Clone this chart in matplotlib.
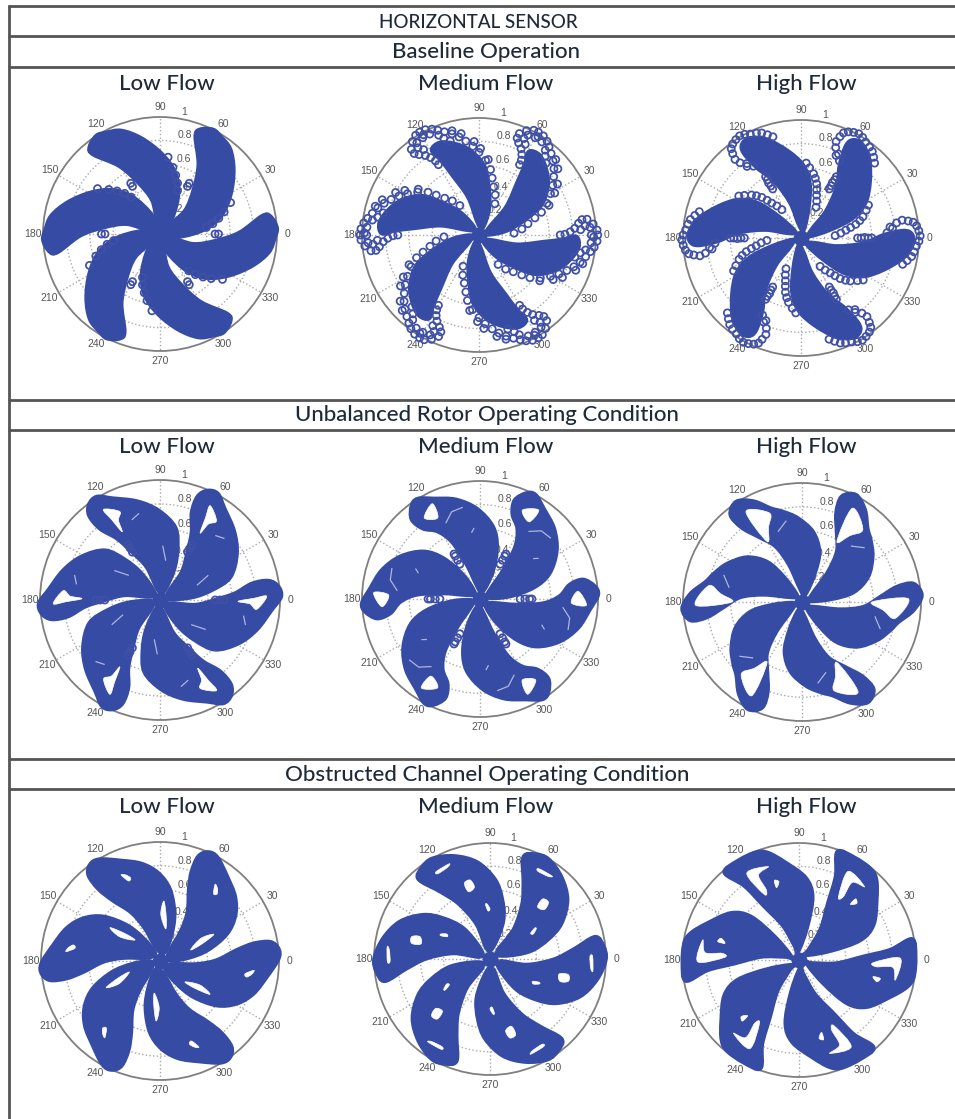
import numpy as np
import matplotlib
matplotlib.use('Agg')
import matplotlib.pyplot as plt
from matplotlib.path import Path
from matplotlib.patches import PathPatch

plt.rcParams['font.family'] = ['Liberation Sans', 'DejaVu Sans']

W, H = 955, 1119
BLUE = '#364BA3'
LOBE_OFFSETS = [0, 60, 120, 180, 240, 300]

THETA_TICKS = [0, 30, 60, 90, 120, 150, 180, 210, 240, 270, 300, 330]
R_TICKS = [0.2, 0.4, 0.6, 0.8]
R_LABELS = ['0.2', '0.4', '0.6', '0.8', '1']
R_LABEL_POS = [0.25, 0.45, 0.67, 0.87, 1.06]
R_LABEL_THETA = [58, 66, 72, 76, 79]

HEADINGS = ['HORIZONTAL SENSOR', 'Baseline Operation',
            'Unbalanced Rotor Operating Condition', 'Obstructed Channel Operating Condition']
HEADING_SIZE = [13.6, 16, 16, 16]
FLOW_NAMES = ['Low Flow', 'Medium Flow', 'High Flow']

## one lobe of each panel, the other five are the same lobe turned
## angle in degrees, r from 0 to 1.
base_low_th = [-18, -17, -7, 1, 10, 9, 3, -2, -9.5, -19, -31, -43.5, -54, -65, -76]
base_low_r = [0.09, 0.294, 0.48, 0.68, 0.888, 0.956, 1.0, 0.98, 0.942, 0.833, 0.688, 0.544, 0.383, 0.2, 0.06]
base_low_ring_th = [0, 0, -52, -49, -45, -41, -36]
base_low_ring_r = [0.47, 0.5, 0.40, 0.46, 0.52, 0.58, 0.66]

base_med_th = [-24, -14, -6, -3, -1, -7, -15, -24, -34, -41, -51, -57]
base_med_r = [0.104, 0.336, 0.56, 0.726, 0.832, 0.857, 0.807, 0.727, 0.597, 0.425, 0.24, 0.068]
base_med_ring_th = [-57, -52, -47, -43, -40, -35, -30, -26, -22, -18.5, -15, -11.5, -8.5, -6, -3, 0, 2.4,
                    5.5, 8.3, 8.5, 6.7, 4, 2, 0.5, 0,
                    4, 0, -4, -8, -10, -13, 5, 3, -1, -27, -20, -15.5, -31, -37]
base_med_ring_r = [0.30, 0.37, 0.43, 0.50, 0.568, 0.64, 0.706, 0.76, 0.81, 0.855, 0.895, 0.93, 0.962, 0.99, 1.01, 1.015, 1.01,
                   0.98, 0.933, 0.89, 0.857, 0.82, 0.78, 0.735, 0.694,
                   0.95, 0.96, 0.96, 0.92, 0.88, 0.84, 0.91, 0.87, 0.98, 0.80, 0.88, 0.92, 0.74, 0.65]

base_high_th = [-21, -13, -5, 2, 4, 2, -3, -11, -21, -31.5, -39, -44, -48]
base_high_r = [0.115, 0.31, 0.53, 0.70, 0.87, 0.94, 0.95, 0.88, 0.75, 0.62, 0.47, 0.265, 0.076]
base_high_ring_th = [-56, -53, -50, -48, -46, -43.5, -41, -37, -34,
                     9, 10, 9, 8, 6, 3.5, 1, -1.5, -4, -7, -9.5, -12, -14.5, 6, 3.5, 7,
                     0, 0, 0.5, 0, 0]
base_high_ring_r = [0.29, 0.34, 0.386, 0.43, 0.478, 0.52, 0.555, 0.60, 0.636,
                    0.82, 0.87, 0.92, 0.96, 0.985, 1.0, 1.01, 1.0, 0.98, 0.965, 0.95, 0.92, 0.89, 0.78, 0.73, 0.76,
                    0.48, 0.51, 0.54, 0.57, 0.60]

unb_low_th = [-16, -8, 0, 5, 10, 10, 6.5, 1.5, -5, -17, -29, -42, -49, -55, -53]
unb_low_r = [0.10, 0.295, 0.46, 0.627, 0.776, 0.917, 0.992, 1.008, 0.934, 0.843, 0.746, 0.616, 0.443, 0.27, 0.07]
unb_low_hole_th = [-1, 1, 2, -5.5, -2.5]
unb_low_hole_r = [0.65, 0.78, 0.89, 0.81, 0.75]
unb_low_slit_th = [[-11, -16], [-38, -33]]
unb_low_slit_r = [[0.71, 0.74], [0.336, 0.448]]
unb_low_ring_th = [0, 0, 0]
unb_low_ring_r = [0.46, 0.5, 0.53]

unb_med_th = [-17, -9, -4, 2, 9, 10.6, 6.3, 2, -5.5, -16.4, -28, -40, -48, -55, -48]
unb_med_r = [0.118, 0.313, 0.536, 0.676, 0.77, 0.888, 0.978, 1.0, 0.934, 0.866, 0.765, 0.624, 0.463, 0.247, 0.064]
unb_med_hole_th = [4.5, -2.5, -3.4]
unb_med_hole_r = [0.834, 0.775, 0.903]
unb_med_slit_th = [[-6, -12, -19], [-23, -25]]
unb_med_slit_r = [[0.708, 0.777, 0.79], [0.57, 0.60]]
unb_med_ring_th = [0, 0, 0, 0]
unb_med_ring_r = [0.34, 0.38, 0.42, 0.44]

unb_high_th = [-23, -11, -4.6, 3.6, 9, 9.3, 3.2, -4.3, -11.7, -17.8, -27, -39, -49, -54, -53]
unb_high_r = [0.106, 0.328, 0.518, 0.658, 0.806, 0.948, 1.007, 0.938, 0.827, 0.777, 0.706, 0.595, 0.445, 0.26, 0.07]
unb_high_hole_th = [0, 1.8, -10, -5.8]
unb_high_hole_r = [0.587, 0.894, 0.795, 0.688]
unb_high_slit_th = [[-11.5, -18.8]]
unb_high_slit_r = [[0.627, 0.693]]

obs_low_th = [-14, -5, 0.7, 8, 10.5, 9.8, 6, 1, -8.5, -19.3, -29, -38, -47, -53.7, -57]
obs_low_r = [0.115, 0.31, 0.476, 0.65, 0.798, 0.938, 1.0, 0.995, 0.906, 0.831, 0.737, 0.605, 0.412, 0.236, 0.077]
obs_low_hole1_th = [-8.5, -5.7, -8.3, -10.5]
obs_low_hole1_r = [0.723, 0.794, 0.778, 0.74]
obs_low_hole2_th = [-40, -31, -33.7, -38]
obs_low_hole2_r = [0.274, 0.393, 0.505, 0.375]

obs_med_th = [-13, -9, -0.6, 6.4, 11.8, 6.4, -0.3, -11, -22.5, -33.4, -41, -49, -47]
obs_med_r = [0.088, 0.32, 0.546, 0.723, 0.925, 0.983, 0.997, 0.937, 0.84, 0.689, 0.534, 0.35, 0.126]
obs_med_hole1_th = [1.5, 1.5, -6.8, -5.1]
obs_med_hole1_r = [0.862, 0.885, 0.893, 0.871]
obs_med_hole2_th = [-12.3, -11.3, -15.9, -17.7]
obs_med_hole2_r = [0.609, 0.689, 0.702, 0.633]
obs_med_hole3_th = [-27.6, -25.3, -26.9, -30]
obs_med_hole3_r = [0.415, 0.47, 0.476, 0.431]

obs_high_th = [-13, -5, 3, 6.3, 10.4, 1.6, -8.3, -14, -22, -34.6, -42, -43.8, -23.5]
obs_high_r = [0.126, 0.324, 0.552, 0.785, 0.982, 0.995, 0.99, 0.951, 0.841, 0.705, 0.552, 0.289, 0.072]
obs_high_hole1_th = [-2, 1, -11.8, -4.5, -5]
obs_high_hole1_r = [0.637, 0.866, 0.84, 0.805, 0.66]
obs_high_hole2_th = [-12.7, -12.8, -15.6]
obs_high_hole2_r = [0.648, 0.712, 0.691]

## layout in pixels of the picture
H_LINE_Y = [6, 36, 67, 400, 430, 759, 789]
HEADING_XY = [(478, 22), (486, 52), (487, 415), (487, 775)]
TITLE_X = [167, 486, 806]
TITLE_Y = [84, 447, 807]

panels = [
    dict(c=(160, 234), R=117, th=base_low_th, r=base_low_r, ring=(base_low_ring_th, base_low_ring_r)),
    dict(c=(479, 235), R=117, th=base_med_th, r=base_med_r, ring=(base_med_ring_th, base_med_ring_r)),
    dict(c=(801, 238), R=118, th=base_high_th, r=base_high_r, ring=(base_high_ring_th, base_high_ring_r)),
    dict(c=(160, 600), R=120, th=unb_low_th, r=unb_low_r, ring=(unb_low_ring_th, unb_low_ring_r),
         holes=[(unb_low_hole_th, unb_low_hole_r)], slits=(unb_low_slit_th, unb_low_slit_r)),
    dict(c=(480, 599), R=118, th=unb_med_th, r=unb_med_r, ring=(unb_med_ring_th, unb_med_ring_r),
         holes=[(unb_med_hole_th, unb_med_hole_r)], slits=(unb_med_slit_th, unb_med_slit_r)),
    dict(c=(802, 602), R=119, th=unb_high_th, r=unb_high_r,
         holes=[(unb_high_hole_th, unb_high_hole_r)], slits=(unb_high_slit_th, unb_high_slit_r)),
    dict(c=(160, 961), R=119, th=obs_low_th, r=obs_low_r,
         holes=[(obs_low_hole1_th, obs_low_hole1_r), (obs_low_hole2_th, obs_low_hole2_r)]),
    dict(c=(490, 959), R=116, th=obs_med_th, r=obs_med_r,
         holes=[(obs_med_hole1_th, obs_med_hole1_r), (obs_med_hole2_th, obs_med_hole2_r),
                (obs_med_hole3_th, obs_med_hole3_r)]),
    dict(c=(799, 960), R=117, th=obs_high_th, r=obs_high_r,
         holes=[(obs_high_hole1_th, obs_high_hole1_r), (obs_high_hole2_th, obs_high_hole2_r)]),
]


def round_path(th_deg, r, offset):
    # closed bezier path through the points, handles worked out in x,y and turned back to polar
    a = np.radians(np.array(th_deg, dtype=float) + offset)
    r = np.array(r, dtype=float)
    pts = np.column_stack([r * np.cos(a), r * np.sin(a)])
    verts = [pts[0]]
    codes = [Path.MOVETO]
    for i in range(len(pts)):
        p0, p1, p2, p3 = pts[i - 1], pts[i], pts[(i + 1) % len(pts)], pts[(i + 2) % len(pts)]
        verts += [p1 + (p2 - p0) / 6, p2 - (p3 - p1) / 6, p2]
        codes += [Path.CURVE4, Path.CURVE4, Path.CURVE4]
    verts = np.array(verts)
    return Path(np.column_stack([np.arctan2(verts[:, 1], verts[:, 0]), np.hypot(verts[:, 0], verts[:, 1])]), codes)


def draw_panel(p):
    cx, cy = p['c']
    R = p['R']
    ax = fig.add_axes([(cx - R) / W, (H - cy - R) / H, 2 * R / W, 2 * R / H], projection='polar')
    ax.set_facecolor('white')
    ax.set_ylim(0, 1)
    ax.set_thetagrids(THETA_TICKS, [str(t) for t in THETA_TICKS], fontsize=7.5, color='#555555')
    ax.set_rgrids(R_TICKS, [''] * len(R_TICKS))
    ax.tick_params(axis='x', pad=-3)
    ax.grid(True, color='#aaaaaa', linestyle=':', linewidth=1.0)
    ax.spines['polar'].set_color('#7f7f7f')
    ax.spines['polar'].set_linewidth(1.3)
    for lab, pos, ang in zip(R_LABELS, R_LABEL_POS, R_LABEL_THETA):
        ax.text(np.radians(ang), pos, lab, fontsize=7.5, color='#555555', ha='center', va='center',
                zorder=1, clip_on=False)

    for off in LOBE_OFFSETS:
        ax.add_patch(PathPatch(round_path(p['th'], p['r'], off), facecolor=BLUE, edgecolor=BLUE,
                               linewidth=3.0, zorder=3, clip_on=False))
        if 'ring' in p:
            ax.scatter(np.radians(np.array(p['ring'][0]) + off), p['ring'][1], s=26, facecolors='none',
                       edgecolors='#3F50A6', linewidths=1.25, zorder=3, clip_on=False)
        for hole_th, hole_r in p.get('holes', []):
            ax.add_patch(PathPatch(round_path(hole_th, hole_r, off), facecolor='white', edgecolor='white',
                                   linewidth=0.5, zorder=4))
        if 'slits' in p:
            for s_th, s_r in zip(*p['slits']):
                ax.plot(np.radians(np.array(s_th) + off), s_r, color='#AEB6DE', linewidth=0.9, zorder=4)
    # the lobes run together in the middle
    ax.scatter([0], [0], s=130, color=BLUE, zorder=5, linewidths=0)
    ax.set_ylim(0, 1)


fig = plt.figure(figsize=(W / 100, H / 100), dpi=100, facecolor='white')

for p in panels:
    draw_panel(p)

## table lines and headings, drawn in picture pixels
page = fig.add_axes([0, 0, 1, 1], facecolor='none')
page.set_xlim(0, W)
page.set_ylim(H, 0)
page.axis('off')
for y in H_LINE_Y:
    page.plot([8, W], [y, y], color='#555555', linewidth=2.0, solid_capstyle='butt')
page.plot([8.5, 8.5], [5, H], color='#555555', linewidth=2.0, solid_capstyle='butt')

for txt, (x, y), size in zip(HEADINGS, HEADING_XY, HEADING_SIZE):
    page.text(x, y, txt, family='Lato', fontsize=size, color='#1E2A38', ha='center', va='center', weight='medium')
for y in TITLE_Y:
    for name, x in zip(FLOW_NAMES, TITLE_X):
        page.text(x, y, name, family='Lato', fontsize=16, color='#1E2A38', ha='center', va='center', weight='medium')

fig.savefig('out.png', dpi=100)
